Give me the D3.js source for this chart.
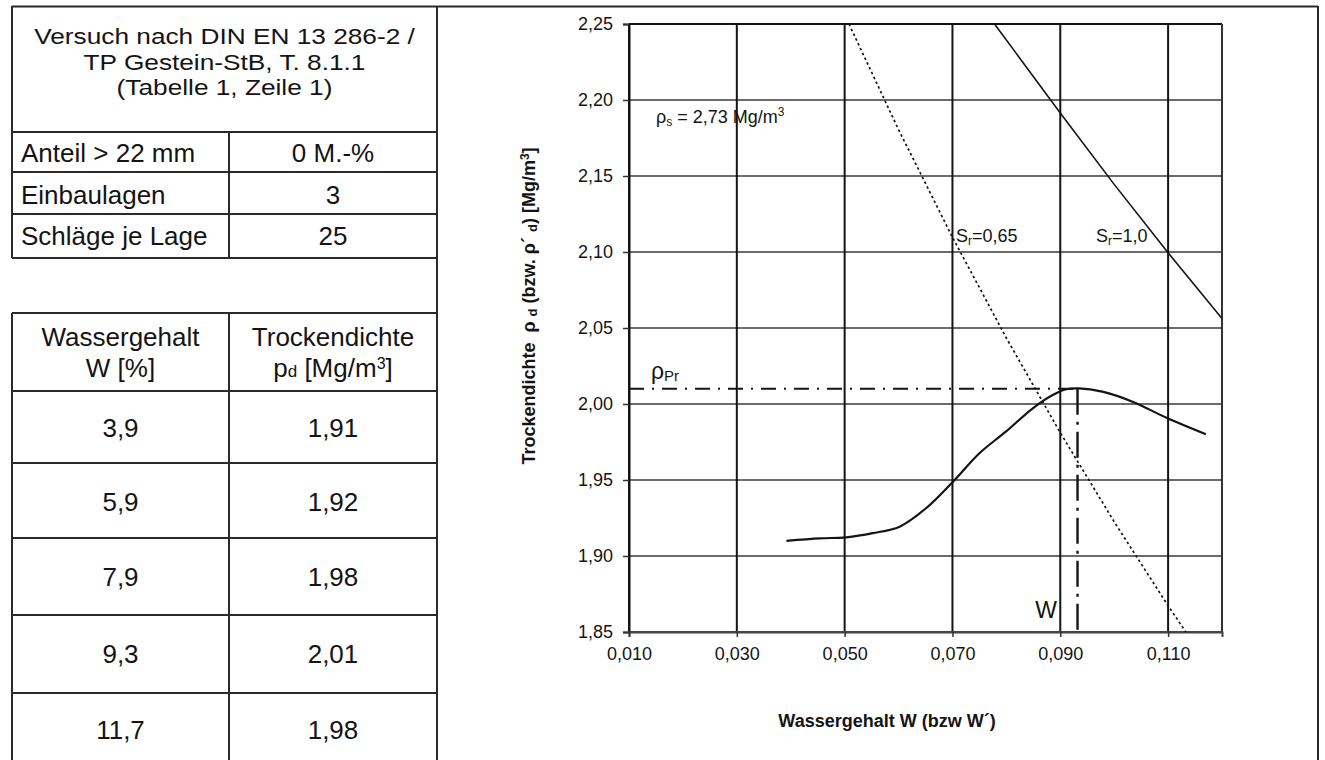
<!DOCTYPE html>
<html><head><meta charset="utf-8">
<script src="https://cdn.jsdelivr.net/npm/d3@7"></script>
<style>
body{margin:0;background:#fff}
svg{display:block}
text{font-family:"Liberation Sans",Arial,sans-serif;fill:#141414;white-space:pre}
</style>
</head><body>
<svg id="c" width="1325" height="760"></svg>
<script>
// ---------- data ----------
const headerLines = ["Versuch nach DIN EN 13 286-2 /", "TP Gestein-StB, T. 8.1.1", "(Tabelle 1, Zeile 1)"];
const paramLabels = ["Anteil > 22 mm", "Einbaulagen", "Schläge je Lage"];
const paramValues = ["0 M.-%", "3", "25"];
const waterContent = ["3,9", "5,9", "7,9", "9,3", "11,7"];
const dryDensity = ["1,91", "1,92", "1,98", "2,01", "1,98"];

const xTicks = [0.010, 0.030, 0.050, 0.070, 0.090, 0.110];
const yTicks = [1.85, 1.90, 1.95, 2.00, 2.05, 2.10, 2.15, 2.20, 2.25];

// Proctor curve
const proctorW   = [0.0392, 0.0454, 0.0503, 0.0552, 0.0602, 0.0651, 0.0701, 0.0750, 0.0799, 0.0849, 0.0886, 0.0911, 0.0935, 0.0978, 0.1034, 0.1099, 0.1170];
const proctorRho = [1.9100, 1.9116, 1.9123, 1.9150, 1.9193, 1.9314, 1.9489, 1.9676, 1.9818, 1.9972, 2.0059, 2.0097, 2.0103, 2.0081, 2.0015, 1.9906, 1.9801];

// Saturation lines
const sr100W   = [0.0778, 0.0900, 0.1000, 0.1100, 0.1200];
const sr100Rho = [2.2500, 2.1915, 2.1445, 2.0995, 2.0563];
const sr065W   = [0.0508, 0.0600, 0.0700, 0.0800, 0.0900, 0.1000, 0.1100, 0.1133];
const sr065Rho = [2.2500, 2.1805, 2.1097, 2.0434, 1.9811, 1.9225, 1.8673, 1.8500];

const rhoPr = 2.01;   // Proctor density
const wPr = 0.0932;   // optimum water content

// ---------- layout ----------
const svg = d3.select("#c");
const ink = "#141414";
const tblFont = 26;

function hline(x1, x2, y, w = 2, c = "#2a2a2a") {
  svg.append("line").attr("x1", x1).attr("x2", x2).attr("y1", y).attr("y2", y)
    .attr("stroke", c).attr("stroke-width", w);
}
function vline(x, y1, y2, w = 2, c = "#2a2a2a") {
  svg.append("line").attr("x1", x).attr("x2", x).attr("y1", y1).attr("y2", y2)
    .attr("stroke", c).attr("stroke-width", w);
}
function txt(x, y, s, size, anchor = "middle", weight = "normal") {
  return svg.append("text").attr("x", x).attr("y", y).attr("text-anchor", anchor)
    .attr("font-size", size).attr("font-weight", weight).text(s);
}

// frames
const tL = 12, tM = 229, tR = 437, frameR = 1318, frameT = 6;
hline(tL, frameR, frameT + 0.5);
vline(tR, frameT, 760);
vline(frameR, frameT, 760);

// table 1
const t1Rows = [132, 172, 214, 258];
vline(tL, frameT, t1Rows[3]);
t1Rows.forEach(y => hline(tL, tR, y));
vline(tM, t1Rows[0], t1Rows[3]);
const headerBase = [44, 69.5, 95];
headerLines.forEach((s, i) => {
  svg.append("text").attr("transform", `translate(${(tL + tR) / 2},${headerBase[i]}) scale(1.05,0.88)`)
    .attr("text-anchor", "middle").attr("font-size", 25).text(s);
});
const paramBase = [162, 204, 245];
paramLabels.forEach((s, i) => txt(tL + 9, paramBase[i], s, tblFont, "start"));
paramValues.forEach((s, i) => txt((tM + tR) / 2, paramBase[i], s, tblFont));

// table 2
const t2Rows = [313, 391, 463, 538, 615, 693];
vline(tL, t2Rows[0], 760);
vline(tM, t2Rows[0], 760);
t2Rows.forEach(y => hline(tL, tR, y));
txt((tL + tM) / 2, 346, "Wassergehalt", tblFont);
txt((tL + tM) / 2, 377, "W [%]", tblFont);
txt((tM + tR) / 2, 346, "Trockendichte", tblFont);
const pd = txt((tM + tR) / 2, 377, "", tblFont);
pd.append("tspan").text("p");
pd.append("tspan").attr("font-size", 17).text("d");
pd.append("tspan").text(" [Mg/m");
pd.append("tspan").attr("font-size", 16).attr("dy", -8).text("3");
pd.append("tspan").attr("dy", 8).text("]");
const dataBase = [437, 511, 586, 663, 739];
waterContent.forEach((s, i) => txt((tL + tM) / 2, dataBase[i], s, tblFont));
dryDensity.forEach((s, i) => txt((tM + tR) / 2, dataBase[i], s, tblFont));

// ---------- chart ----------
const pL = 629, pR = 1222, pT = 24, pB = 632;
const x = d3.scaleLinear().domain([0.010, 0.120]).range([pL, pR]);
const y = d3.scaleLinear().domain([1.85, 2.25]).range([pB, pT]);
const fmt = (d, n) => d.toFixed(n).replace(".", ",");

const g = svg.append("g");
// horizontal grid
g.selectAll(".hg").data(yTicks).enter().append("line")
  .attr("x1", pL).attr("x2", pR).attr("y1", d => y(d)).attr("y2", d => y(d))
  .attr("stroke", "#3a3a3a").attr("stroke-width", 1.4);
// vertical grid
g.selectAll(".vg").data(xTicks).enter().append("line")
  .attr("x1", d => x(d)).attr("x2", d => x(d)).attr("y1", pT).attr("y2", pB)
  .attr("stroke", ink).attr("stroke-width", 2);
// box
g.append("line").attr("x1", pL).attr("x2", pR).attr("y1", pT).attr("y2", pT).attr("stroke", ink).attr("stroke-width", 2);
g.append("line").attr("x1", pR).attr("x2", pR).attr("y1", pT).attr("y2", pB).attr("stroke", "#333").attr("stroke-width", 2);
g.append("line").attr("x1", pL).attr("x2", pR).attr("y1", pB).attr("y2", pB).attr("stroke", "#444").attr("stroke-width", 2);

// axes
const yAxis = d3.axisLeft(y).tickValues(yTicks).tickSize(6).tickPadding(10).tickFormat(d => fmt(d, 2));
const xAxis = d3.axisBottom(x).tickValues(xTicks).tickSize(5).tickPadding(10).tickFormat(d => fmt(d, 3));
const ya = svg.append("g").attr("transform", `translate(${pL},0)`).call(yAxis);
const xa = svg.append("g").attr("transform", `translate(0,${pB})`).call(xAxis);
[ya, xa].forEach(a => {
  a.select(".domain").attr("stroke", ink).attr("stroke-width", 2);
  a.selectAll(".tick line").attr("stroke", "#333").attr("stroke-width", 1.5);
  a.selectAll(".tick text").attr("font-size", 18).attr("fill", ink)
    .attr("font-family", '"Liberation Sans",Arial,sans-serif');
});
xa.select(".domain").attr("stroke", "#444");

// saturation lines
const line = d3.line().x(d => x(d[0])).y(d => y(d[1]));
svg.append("path").datum(d3.zip(sr100W, sr100Rho)).attr("d", line)
  .attr("fill", "none").attr("stroke", ink).attr("stroke-width", 1.6);
svg.append("path").datum(d3.zip(sr065W, sr065Rho)).attr("d", line)
  .attr("fill", "none").attr("stroke", ink).attr("stroke-width", 1.7).attr("stroke-dasharray", "2.5,2.8");

// Proctor curve
svg.append("path").datum(d3.zip(proctorW, proctorRho))
  .attr("d", d3.line().x(d => x(d[0])).y(d => y(d[1])).curve(d3.curveCatmullRom))
  .attr("fill", "none").attr("stroke", ink).attr("stroke-width", 2.2);

// rho_Pr and w_Pr dash-dot lines
svg.append("line").attr("x1", x(0.010)).attr("x2", x(wPr)).attr("y1", y(rhoPr)).attr("y2", y(rhoPr))
  .attr("stroke", ink).attr("stroke-width", 2).attr("stroke-dasharray", "15,8,2,8");
svg.append("line").attr("x1", x(wPr)).attr("x2", x(wPr)).attr("y1", y(rhoPr)).attr("y2", pB)
  .attr("stroke", ink).attr("stroke-width", 2.4).attr("stroke-dasharray", "26,7,3,7");

// labels
const rs = txt(656, 123, "", 18, "start");
rs.append("tspan").text("ρ");
rs.append("tspan").attr("font-size", 12).attr("dy", 3).text("s");
rs.append("tspan").attr("dy", -3).text(" = 2,73 Mg/m");
rs.append("tspan").attr("font-size", 12).attr("dy", -7).text("3");

const s1 = txt(956, 242, "", 18, "start");
s1.append("tspan").text("S");
s1.append("tspan").attr("font-size", 12).attr("dy", 3).text("r");
s1.append("tspan").attr("dy", -3).text("=0,65");
const s2 = txt(1096, 242, "", 18, "start");
s2.append("tspan").text("S");
s2.append("tspan").attr("font-size", 12).attr("dy", 3).text("r");
s2.append("tspan").attr("dy", -3).text("=1,0");

const pr = txt(651, 379, "", 23, "start");
pr.append("tspan").text("ρ");
pr.append("tspan").attr("font-size", 15).attr("dy", 2).text("Pr");

txt(1046, 618, "W", 23);

// axis titles
txt(887, 727, "Wassergehalt W (bzw W´)", 18, "middle", "bold");
const yt = svg.append("text").attr("transform", "translate(535,306) rotate(-90)")
  .attr("text-anchor", "middle").attr("font-size", 18).attr("font-weight", "bold");
yt.append("tspan").text("Trockendichte  ρ ");
yt.append("tspan").attr("font-size", 13).attr("dy", 2).text("d");
yt.append("tspan").attr("dy", -2).text(" (bzw. ρ´ ");
yt.append("tspan").attr("font-size", 13).attr("dy", 2).text("d");
yt.append("tspan").attr("dy", -2).text(") [Mg/m");
yt.append("tspan").attr("font-size", 12).attr("dy", -6).text("3");
yt.append("tspan").attr("dy", 6).text("]");
</script>
</body></html>
